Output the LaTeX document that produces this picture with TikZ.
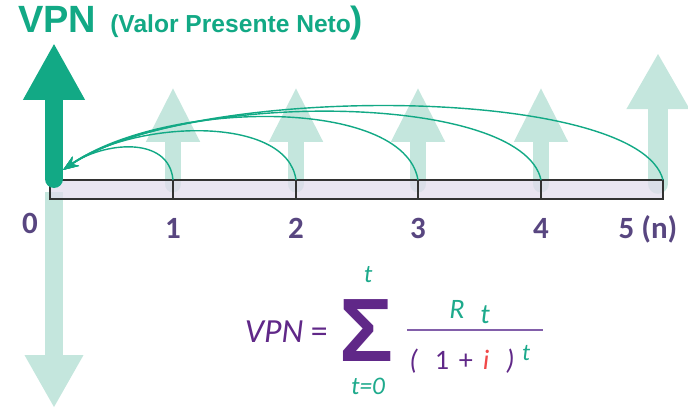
\documentclass[tikz,border=0pt]{standalone}
\usepackage{fontspec}
\setmainfont{Carlito}
\newfontfamily\titlefont{Liberation Sans}
\usetikzlibrary{arrows.meta, calc}

\definecolor{vpngreen}{RGB}{18,169,133}
\definecolor{lightgreen}{RGB}{196,230,221}
\definecolor{axispurple}{RGB}{88,70,128}
\definecolor{formpurple}{RGB}{96,40,136}
\definecolor{fracpurple}{RGB}{130,95,170}
\definecolor{formteal}{RGB}{30,170,140}
\definecolor{formred}{RGB}{240,72,72}
\definecolor{barfill}{RGB}{226,220,236}
\definecolor{barline}{RGB}{50,50,50}

\begin{document}
\begin{tikzpicture}[
    % one unit = one pixel of the reference
    x=0.025cm, y=0.025cm,
    % Global Styles
    axislabel/.style={anchor=base, inner sep=0pt, text=axispurple,
        font=\bfseries\fontsize{22}{24}\selectfont},
    formula/.style={inner sep=0pt, font=\itshape\fontsize{18}{20}\selectfont},
    % The timeline bar
    bar/.style={draw=barline, line width=1pt, fill=barfill, fill opacity=0.75},
    % Cash flow arrows
    cashin/.style={draw=lightgreen, line width=12pt, line cap=round,
        -{Triangle[length=39pt, width=35.5pt]}},
    cashlast/.style={draw=lightgreen, line width=14pt, line cap=round,
        -{Triangle[length=40pt, width=42pt]}},
    cashout/.style={draw=lightgreen, line width=12.8pt,
        -{Triangle[length=37.6pt, width=39pt]}},
    present/.style={draw=vpngreen, line width=12.8pt, line cap=round,
        -{Triangle[length=40.4pt, width=41pt]}},
    % Discount arcs
    discount/.style={draw=vpngreen, line width=1pt,
        -{Stealth[length=11pt, width=8pt]}}
]
    \useasboundingbox (0,0) rectangle (688,409);

    % --- Coordinates ---
    \coordinate (t1) at (173,229);
    \coordinate (t2) at (296,229);
    \coordinate (t3) at (418,229);
    \coordinate (t4) at (541,229);
    \coordinate (t5) at (663,229);
    \coordinate (vpn) at (63,239);

    % --- Title ---
    \node[anchor=base west, inner sep=0pt, text=vpngreen,
          font=\titlefont\bfseries\fontsize{27}{30}\selectfont] (title) at (18,376) {VPN};
    \node[anchor=base west, inner sep=0pt, text=vpngreen,
          font=\titlefont\bfseries\fontsize{17.5}{20}\selectfont] (subtitle) at (110,376)
          {(Valor Presente Neto{\fontsize{26}{28}\selectfont)}};

    % --- Cash flows (light) ---
    \coordinate (in1) at (173,225); \coordinate (in1top) at (173,322);
    \coordinate (in2) at (296,225); \coordinate (in2top) at (296,322);
    \coordinate (in3) at (418,225); \coordinate (in3top) at (418,322);
    \coordinate (in4) at (541,225); \coordinate (in4top) at (541,322);
    \coordinate (in5) at (658,225); \coordinate (in5top) at (658,356);
    \draw[cashin] (in1) -- (in1top);
    \draw[cashin] (in2) -- (in2top);
    \draw[cashin] (in3) -- (in3top);
    \draw[cashin] (in4) -- (in4top);
    \draw[cashlast] (in5) -- (in5top);

    % investment (down)
    \coordinate (out0) at (54,217);
    \coordinate (out0end) at (54,1);
    \draw[cashout] (out0) -- (out0end);

    % --- Timeline ---
    \draw[bar] (50,210) rectangle (663,229);
    \foreach \x in {173,296,418,541}
        \draw[barline, line width=1pt] (\x,210) -- (\x,229);

    % --- Present value arrow ---
    \coordinate (zero) at (54,230);
    \coordinate (zerotop) at (54,366);
    \draw[present] (zero) -- (zerotop);

    % --- Discount arcs ---
    \draw[discount] (t1) .. controls +(-4,45) and +(40,28) .. (vpn);
    \draw[discount] (t2) .. controls +(-9,66) and +(70,50) .. (vpn);
    \draw[discount] (t3) .. controls +(-14,84) and +(100,70) .. (vpn);
    \draw[discount] (t4) .. controls +(-19,88) and +(120,80) .. (vpn);
    \draw[discount] (t5) .. controls +(-24,95) and +(130,88) .. (vpn);

    % --- Period labels ---
    \node[axislabel] (p0) at (30,176) {0};
    \node[axislabel] (p1) at (173,171) {1};
    \node[axislabel] (p2) at (296,171) {2};
    \node[axislabel] (p3) at (418,171) {3};
    \node[axislabel] (p4) at (541,171) {4};
    \node[axislabel] (p5) at (648,171) {5 (n)};

    % --- Formula ---
    \node[formula, anchor=base east, text=formpurple,
          font=\fontsize{24}{26}\selectfont] (lhs) at (328,67) {\textit{VPN} =};
    \node[anchor=base, inner sep=0pt, text=formpurple, text height=46pt, text depth=0pt,
          font=\titlefont\bfseries\fontsize{64}{64}\selectfont] (sigma) at (366,48) {Σ};
    \node[formula, text=formteal] (upper) at (368,134) {t};
    \node[formula, text=formteal] (lower) at (368,23) {t=0};
    \node[formula, text=formteal, font=\itshape\fontsize{20}{22}\selectfont] (rnum) at (457,100) {R};
    \node[formula, text=formteal, font=\itshape\fontsize{20}{22}\selectfont] (tnum) at (485,94) {t};
    \coordinate (fracL) at (407,79);
    \coordinate (fracR) at (543,79);
    \draw[fracpurple, line width=1.5pt] (fracL) -- (fracR);
    \node[formula, text=formpurple, font=\itshape\fontsize{20}{22}\selectfont] (denom) at (462,48)
          {(\hspace{0.6em}\textup{1}\hspace{0.35em}\textup{+}\hspace{0.35em}\textcolor{formred}{i}\hspace{0.6em})};
    \node[formula, text=formteal, font=\itshape\fontsize{17}{19}\selectfont] (texp) at (526,56) {t};

\end{tikzpicture}
\end{document}
